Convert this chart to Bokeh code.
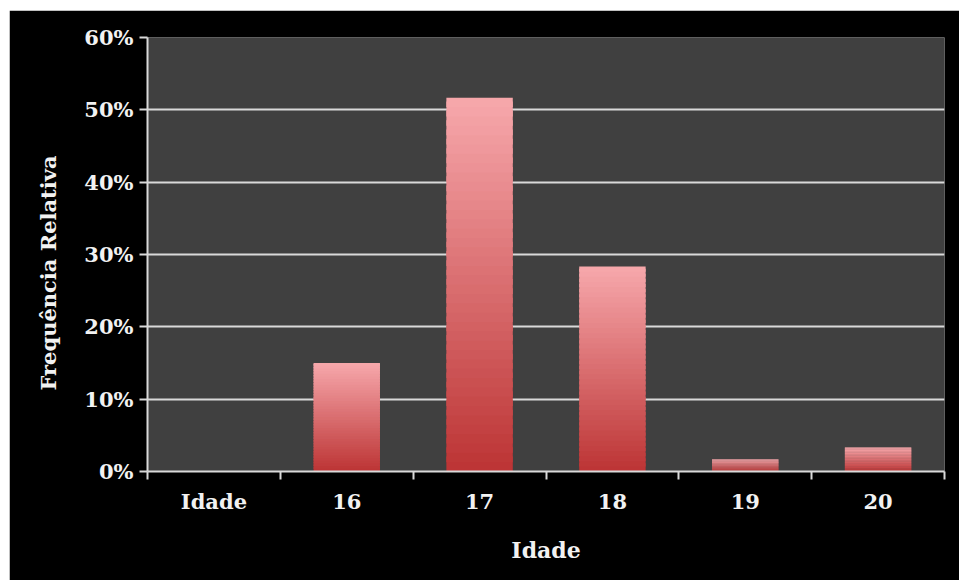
import numpy as np
from bokeh.plotting import figure
from bokeh.models import ColumnDataSource, FixedTicker, NumeralTickFormatter, Range1d, Spacer, Title
from bokeh.layouts import column, row
from bokeh.embed import file_html
from bokeh.resources import INLINE

categories = ["Idade", "16", "17", "18", "19", "20"]
freq_rel = [0.0, 0.15, 0.5167, 0.2833, 0.0167, 0.0333]
y_ticks = [0.0, 0.1, 0.2, 0.3, 0.4, 0.5, 0.6]

FONT = "DejaVu Serif"
TXT = "#f2f2f2"

p = figure(width=950, height=570, output_backend="svg", toolbar_location=None,
           x_range=Range1d(0, len(categories)), y_range=Range1d(0, 0.6))
p.background_fill_color = "#404040"
p.border_fill_color = "#000000"
p.outline_line_color = None
p.min_border_left = 138
p.min_border_right = 15
p.min_border_top = 27
p.min_border_bottom = 109

# gradient bars built as overlapping slices of each bar
N = 40
top_rgb = np.array([247, 168, 172])
bot_rgb = np.array([188, 52, 52])
xs, bots, tops, cols = [], [], [], []
for i, v in enumerate(freq_rel):
    if v <= 0:
        continue
    for k in range(N):
        f = (k + 0.5) / N
        c = bot_rgb + (top_rgb - bot_rgb) * f
        xs.append(i + 0.5)
        bots.append(v * k / N)
        tops.append(v * min(k + 1.6, N) / N)
        cols.append("#%02x%02x%02x" % tuple(int(round(t)) for t in c))
src = ColumnDataSource(dict(x=xs, bottom=bots, top=tops, color=cols))
p.vbar(x="x", bottom="bottom", top="top", width=0.5, fill_color="color",
       line_color=None, source=src)

# grid
p.xgrid.grid_line_color = None
p.ygrid.ticker = FixedTicker(ticks=y_ticks)
p.ygrid.grid_line_color = "#d9d9d9"
p.ygrid.grid_line_width = 2

# y axis
ya = p.yaxis[0]
ya.ticker = FixedTicker(ticks=y_ticks)
ya.formatter = NumeralTickFormatter(format="0%")
ya.axis_line_color = "#d9d9d9"
ya.axis_line_width = 2
ya.major_tick_line_color = "#d9d9d9"
ya.major_tick_line_width = 2
ya.major_tick_in = 0
ya.major_tick_out = 8
ya.minor_tick_line_color = None
ya.major_label_standoff = 6
ya.major_label_text_font = FONT
ya.major_label_text_font_style = "bold"
ya.major_label_text_font_size = "21px"
ya.major_label_text_color = TXT

ytitle = Title(text="Frequência Relativa", align="left", offset=81,
               text_font=FONT, text_font_style="bold", text_font_size="21px",
               text_color=TXT, standoff=42)
p.add_layout(ytitle, "left")

# x axis: labels at category centres, tick marks at boundaries
xa = p.xaxis[0]
centers = [i + 0.5 for i in range(len(categories))]
xa.ticker = FixedTicker(ticks=centers, minor_ticks=list(range(len(categories) + 1)))
xa.major_label_overrides = {c: lab for c, lab in zip(centers, categories)}
xa.axis_line_color = "#d9d9d9"
xa.axis_line_width = 2
xa.major_tick_line_color = None
xa.major_tick_in = 0
xa.major_tick_out = 8
xa.minor_tick_line_color = "#d9d9d9"
xa.minor_tick_line_width = 2
xa.minor_tick_in = 0
xa.minor_tick_out = 8
xa.major_label_standoff = 9
xa.major_label_text_font = FONT
xa.major_label_text_font_style = "bold"
xa.major_label_text_font_size = "21px"
xa.major_label_text_color = TXT
xa.axis_label = "Idade"
xa.axis_label_text_font = FONT
xa.axis_label_text_font_style = "bold"
xa.axis_label_text_font_size = "22px"
xa.axis_label_text_color = TXT
xa.axis_label_standoff = 20

layout = column(Spacer(width=959, height=10), row(Spacer(width=9, height=570), p))
open("out.html", "w").write(file_html(layout, INLINE))
